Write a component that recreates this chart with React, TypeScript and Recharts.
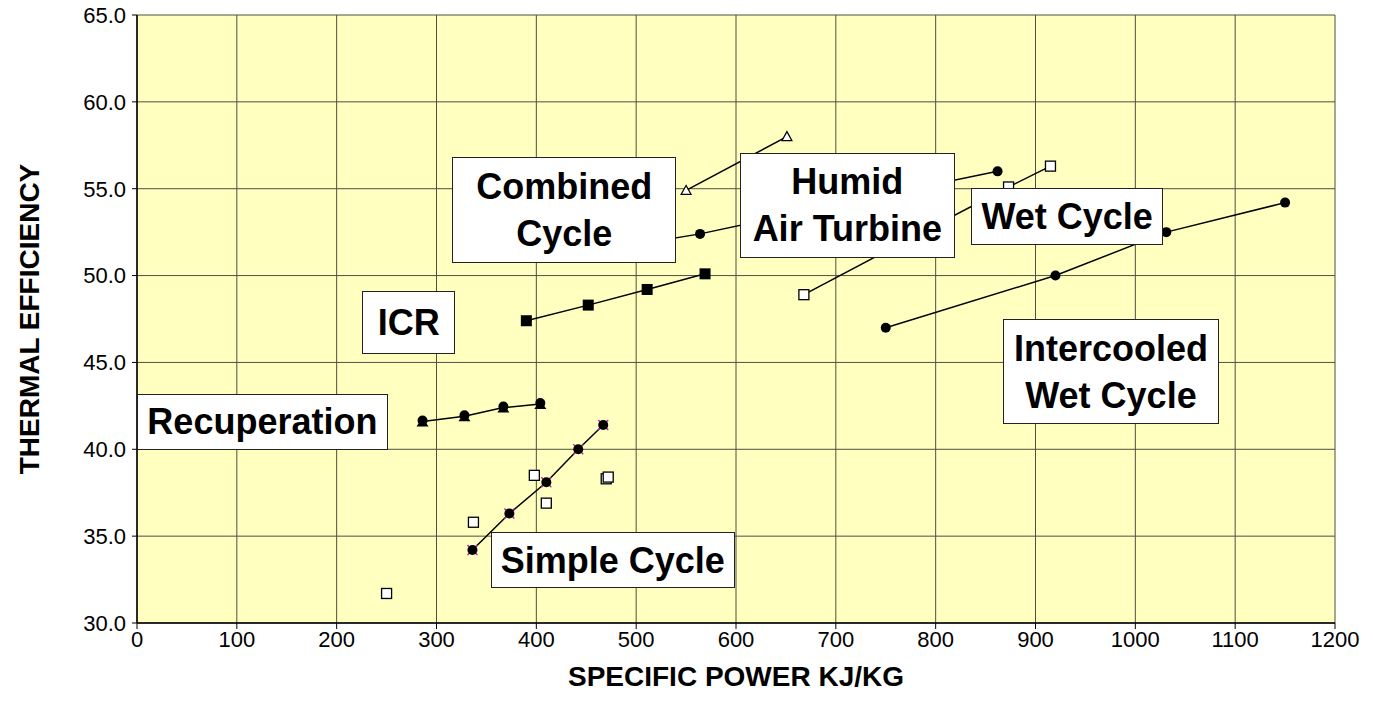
import { ScatterChart, Scatter, XAxis, YAxis, CartesianGrid } from "recharts";

// ---- data (specific power kJ/kg, thermal efficiency %) ----
const simpleCycle = [
  { x: 336, y: 34.2 },
  { x: 373, y: 36.3 },
  { x: 410, y: 38.1 },
  { x: 442, y: 40.0 },
  { x: 467, y: 41.4 },
];
const simpleCycleScatter = [
  { x: 250, y: 31.7 },
  { x: 337, y: 35.8 },
  { x: 398, y: 38.5 },
  { x: 410, y: 36.9 },
  { x: 470, y: 38.3 },
  { x: 472, y: 38.4 },
];
const recuperation = [
  { x: 286, y: 41.6 },
  { x: 328, y: 41.9 },
  { x: 367, y: 42.4 },
  { x: 404, y: 42.6 },
];
const icr = [
  { x: 390, y: 47.4 },
  { x: 452, y: 48.3 },
  { x: 511, y: 49.2 },
  { x: 569, y: 50.1 },
];
const combinedCycle = [
  { x: 550, y: 54.9 },
  { x: 651, y: 58.0 },
];
const humidAirTurbine = [
  { x: 480, y: 51.6 },
  { x: 564, y: 52.4 },
  { x: 710, y: 54.2 },
  { x: 862, y: 56.0 },
];
const wetCycle = [
  { x: 668, y: 48.9 },
  { x: 770, y: 52.0 },
  { x: 873, y: 55.1 },
  { x: 915, y: 56.3 },
];
const intercooledWetCycle = [
  { x: 750, y: 47.0 },
  { x: 920, y: 50.0 },
  { x: 1031, y: 52.5 },
  { x: 1150, y: 54.2 },
];

const xTicks = [0, 100, 200, 300, 400, 500, 600, 700, 800, 900, 1000, 1100, 1200];
const yTicks = [30, 35, 40, 45, 50, 55, 60, 65];

// label boxes, in data units: [x1, x2, yTop, yBottom]
const labels = [
  { text: ["Combined", "Cycle"], box: [316, 540, 56.82, 50.72] },
  { text: ["Humid", "Air Turbine"], box: [604, 819, 57.04, 51.03] },
  { text: ["Wet Cycle"], box: [835.5, 1028, 55.04, 51.76] },
  { text: ["ICR"], box: [225.8, 318.4, 49.11, 45.51] },
  { text: ["Intercooled", "Wet Cycle"], box: [867.5, 1083.7, 47.5, 41.45] },
  { text: ["Recuperation"], box: [0, 251.2, 43.2, 39.96] },
  { text: ["Simple Cycle"], box: [354.2, 598.8, 35.22, 32.0] },
];

const W = 1373;
const H = 715;
const FONT = "'Liberation Sans', Arial, sans-serif";
const plot = { left: 137, right: 1335, top: 15, bottom: 623 };
const px = (x: number) => plot.left + (x / 1200) * (plot.right - plot.left);
const py = (y: number) => plot.top + ((65 - y) / 35) * (plot.bottom - plot.top);

const line = { stroke: "#000", strokeWidth: 1.5 };

const Dot = (p: any) => <circle cx={p.cx} cy={p.cy} r={5} fill="#000" />;
const SolidSquare = (p: any) => (
  <rect x={p.cx - 5.5} y={p.cy - 5.5} width={11} height={11} fill="#000" />
);
const OpenSquare = (p: any) => (
  <rect x={p.cx - 5} y={p.cy - 5} width={10} height={10} fill="#fff" stroke="#000" strokeWidth={1.3} />
);
const OpenTriangle = (p: any) => (
  <polygon
    points={`${p.cx},${p.cy - 5} ${p.cx - 5},${p.cy + 4} ${p.cx + 5},${p.cy + 4}`}
    fill="#fff"
    stroke="#000"
    strokeWidth={1.2}
  />
);
const DotCross = (p: any) => (
  <g>
    <line x1={p.cx - 5} y1={p.cy - 5} x2={p.cx + 5} y2={p.cy + 5} stroke="#c020c0" strokeWidth={1.5} />
    <line x1={p.cx - 5} y1={p.cy + 5} x2={p.cx + 5} y2={p.cy - 5} stroke="#c020c0" strokeWidth={1.5} />
    <circle cx={p.cx} cy={p.cy} r={5} fill="#000" />
  </g>
);
const DotTriangle = (p: any) => (
  <g>
    <polygon points={`${p.cx},${p.cy - 4} ${p.cx - 6},${p.cy + 5} ${p.cx + 6},${p.cy + 5}`} fill="#000" />
    <circle cx={p.cx} cy={p.cy - 1} r={5} fill="#000" />
  </g>
);

export default function App() {
  return (
    <div style={{ position: "absolute", left: 0, top: 0, width: W, height: H, background: "#fff", fontFamily: FONT }}>
      <ScatterChart
        width={W}
        height={H}
        margin={{ top: plot.top, right: W - plot.right, bottom: 32, left: 17 }}
      >
        <CartesianGrid stroke="#4f4f40" strokeWidth={1} fill="#FFFFC0" fillOpacity={1} />
        <XAxis
          type="number"
          dataKey="x"
          domain={[0, 1200]}
          ticks={xTicks}
          interval={0}
          height={60}
          tickSize={6}
          tickMargin={2}
          axisLine={{ stroke: "#000", strokeWidth: 1.5 }}
          tickLine={{ stroke: "#000" }}
          tick={{ fill: "#000", fontSize: 22, fontFamily: FONT }}
        />
        <YAxis
          type="number"
          dataKey="y"
          domain={[30, 65]}
          ticks={yTicks}
          interval={0}
          width={120}
          tickSize={5}
          tickMargin={6}
          tickFormatter={(v: number) => v.toFixed(1)}
          axisLine={{ stroke: "#000", strokeWidth: 1.5 }}
          tickLine={{ stroke: "#000" }}
          tick={{ fill: "#000", fontSize: 22, fontFamily: FONT }}
        />
        <Scatter data={simpleCycleScatter} shape={OpenSquare} isAnimationActive={false} />
        <Scatter data={simpleCycle} line={line} shape={DotCross} isAnimationActive={false} />
        <Scatter data={recuperation} line={line} shape={DotTriangle} isAnimationActive={false} />
        <Scatter data={icr} line={line} shape={SolidSquare} isAnimationActive={false} />
        <Scatter data={combinedCycle} line={line} shape={OpenTriangle} isAnimationActive={false} />
        <Scatter data={humidAirTurbine} line={line} shape={Dot} isAnimationActive={false} />
        <Scatter data={wetCycle} line={line} shape={OpenSquare} isAnimationActive={false} />
        <Scatter data={intercooledWetCycle} line={line} shape={Dot} isAnimationActive={false} />
      </ScatterChart>

      {labels.map((l) => {
        const left = px(l.box[0]);
        const top = py(l.box[2]);
        return (
          <div
            key={l.text.join(" ")}
            style={{
              position: "absolute",
              left,
              top,
              width: px(l.box[1]) - left,
              height: py(l.box[3]) - top,
              boxSizing: "border-box",
              background: "#fff",
              border: "1.5px solid #222",
              display: "flex",
              flexDirection: "column",
              alignItems: "center",
              justifyContent: "center",
              fontWeight: "bold",
              fontSize: 36,
              lineHeight: "47px",
              color: "#000",
              whiteSpace: "nowrap",
            }}
          >
            {l.text.map((t) => (
              <span key={t}>{t}</span>
            ))}
          </div>
        );
      })}

      <div
        style={{
          position: "absolute",
          left: 30,
          top: (plot.top + plot.bottom) / 2,
          transform: "translate(-50%, -50%) rotate(-90deg)",
          fontWeight: "bold",
          fontSize: 28,
          whiteSpace: "nowrap",
        }}
      >
        THERMAL EFFICIENCY
      </div>
      <div
        style={{
          position: "absolute",
          left: (plot.left + plot.right) / 2,
          top: 677,
          transform: "translate(-50%, -50%)",
          fontWeight: "bold",
          fontSize: 28,
          whiteSpace: "nowrap",
        }}
      >
        SPECIFIC POWER KJ/KG
      </div>
    </div>
  );
}
